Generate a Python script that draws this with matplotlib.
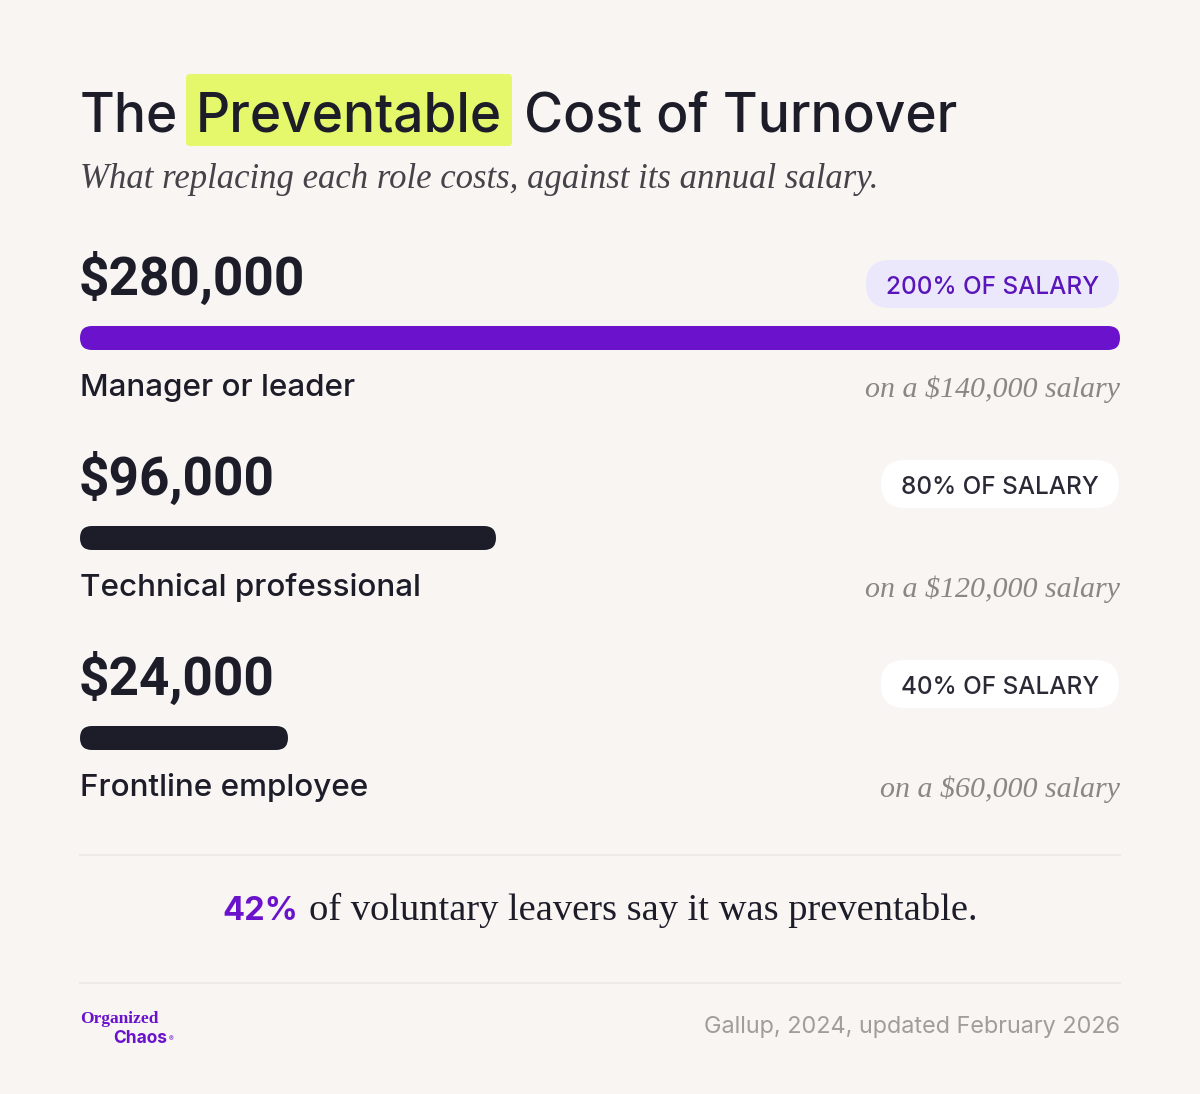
import matplotlib
matplotlib.use("Agg")
import matplotlib.pyplot as plt
from matplotlib.patches import FancyBboxPatch

# ---------------- data ----------------
roles = ["Manager or leader", "Technical professional", "Frontline employee"]
replacement_cost = [280000, 96000, 24000]
annual_salary = [140000, 120000, 60000]
pct_of_salary = [200, 80, 40]
headline_pct = 42
title_words = ["The", "Preventable", "Cost of Turnover"]
subtitle = "What replacing each role costs, against its annual salary."
callout_rest = "of voluntary leavers say it was preventable."
source = "Gallup, 2024, updated February 2026"

# ---------------- style ----------------
BG = "#F8F5F2"
INK = "#1D1C29"
PURPLE = "#6A12CC"
PILL_PURPLE_BG = "#ECE8FC"
PILL_PURPLE_TX = "#5A16BA"
GREY_SERIF = "#8A8784"
GREY_FOOT = "#A19D99"
HILITE = "#E5F86B"
RULE = "#ECE8E4"
SANS = ["Inter", "DejaVu Sans"]
NUM = ["Roboto", "DejaVu Sans"]
SERIF = ["Liberation Serif", "DejaVu Serif"]

W, H = 1200, 1094
fig = plt.figure(figsize=(W / 100, H / 100), dpi=100, facecolor=BG)
ax = fig.add_axes([0, 0, 1, 1])
ax.set_xlim(0, W)
ax.set_ylim(H, 0)
ax.axis("off")
ax.set_facecolor(BG)

fig.canvas.draw()
renderer = fig.canvas.get_renderer()


def width_of(t):
    return t.get_window_extent(renderer).width


def fit(t, target):
    """Scale a text's font size so its width matches a target pixel width."""
    s = t.get_fontsize()
    t.set_fontsize(s * target / width_of(t))
    return t.get_fontsize()

# ---------------- title ----------------
ax.add_patch(FancyBboxPatch((186, 74), 326, 72,
                            boxstyle="round,pad=0,rounding_size=4",
                            fc=HILITE, ec="none", zorder=1))
title_x = [80, 196, 524]
tts = [ax.text(x, 131, word, fontsize=40, fontfamily=SANS, fontweight="medium",
               color=INK, va="baseline", ha="left", zorder=3)
       for word, x in zip(title_words, title_x)]
ts = fit(tts[1], 306)
for t in tts:
    t.set_fontsize(ts)

st = ax.text(80, 188, subtitle, fontsize=24, fontfamily=SERIF, style="italic",
             color="#45434A", va="baseline", ha="left")
fit(st, 802)

# ---------------- rows ----------------
row_top = [0, 200, 400]
value_size = None
salary_size = None
for i, (role, cost, sal, pct) in enumerate(zip(roles, replacement_cost,
                                               annual_salary, pct_of_salary)):
    dy = row_top[i]
    # big value
    vt = ax.text(79, 295 + dy, f"${cost:,.0f}", fontsize=38, fontfamily=NUM,
                 fontweight="bold", color=INK, va="baseline", ha="left")
    if value_size is None:
        value_size = fit(vt, 226)
    vt.set_fontsize(value_size)
    # pill
    first = i == 0
    pill_bg = PILL_PURPLE_BG if first else "#FFFFFF"
    pill_tx = PILL_PURPLE_TX if first else "#2A2935"
    t = ax.text(0, 294 + dy, f"{pct}% OF SALARY", fontsize=17.5,
                fontfamily=SANS, fontweight="medium", color=pill_tx,
                va="baseline", ha="center", zorder=4)
    tw = width_of(t)
    pw = tw + 40
    right = 1119
    t.set_x(right - pw / 2)
    ax.add_patch(FancyBboxPatch((right - pw, 260 + dy), pw, 48,
                                boxstyle="round,pad=0,rounding_size=24",
                                fc=pill_bg, ec="none", zorder=2))
    # bar axes (value on 0-200 % scale)
    bax = fig.add_axes([80 / W, 1 - (350 + dy) / H, 1040 / W, 24 / H])
    bax.set_xlim(0, 200)
    bax.set_ylim(0, 1)
    bax.axis("off")
    bars = bax.barh([0.5], [pct], height=1.0, left=0)
    rx = 12 * 200 / 1040
    for b in bars:
        x0, y0 = b.get_x(), b.get_y()
        bw, bh = b.get_width(), b.get_height()
        b.set_visible(False)
        bax.add_patch(FancyBboxPatch((x0, y0), bw, bh,
                                     boxstyle=f"round,pad=0,rounding_size={rx}",
                                     mutation_aspect=0.5 / rx,
                                     fc=PURPLE if first else INK, ec="none",
                                     clip_on=False))
    # labels
    ax.text(80, 396 + dy, role, fontsize=22.6, fontfamily=SANS,
            fontweight="medium", color=INK, va="baseline", ha="left")
    rt = ax.text(1120, 397 + dy, f"on a ${sal:,.0f} salary", fontsize=21,
                 fontfamily=SERIF, style="italic", color=GREY_SERIF,
                 va="baseline", ha="right")
    if salary_size is None:
        salary_size = fit(rt, 256)
    rt.set_fontsize(salary_size)

# ---------------- rules ----------------
ax.plot([80, 1120], [855, 855], color=RULE, lw=1.2)
ax.plot([80, 1120], [983, 983], color=RULE, lw=1.2)

# ---------------- callout ----------------
t1 = ax.text(0, 920, f"{headline_pct}%", fontsize=23.5, fontfamily=SANS,
             fontweight="bold", color=PURPLE, va="baseline", ha="left")
t2 = ax.text(0, 920, callout_rest, fontsize=27, fontfamily=SERIF,
             color=INK, va="baseline", ha="left")
fit(t2, 667)
w1, w2 = width_of(t1), width_of(t2)
gap = 10
total = w1 + gap + w2
x0 = 600 - total / 2
t1.set_x(x0)
t2.set_x(x0 + w1 + gap)

# ---------------- footer ----------------
ax.text(80, 1023, "Organized", fontsize=12.5, fontfamily=SERIF,
        color=PURPLE, va="baseline", ha="left", fontweight="bold")
ax.text(113, 1043, "Chaos", fontsize=12.5, fontfamily=SANS,
        fontweight="bold", color=PURPLE, va="baseline", ha="left")
ax.text(171, 1041, "®", fontsize=5, fontfamily=SANS, color=PURPLE,
        va="baseline", ha="center")
ft = ax.text(1120, 1033, source, fontsize=16.5, fontfamily=SANS,
             color=GREY_FOOT, va="baseline", ha="right")
fit(ft, 417)

fig.savefig("out.png", dpi=100, facecolor=BG)
